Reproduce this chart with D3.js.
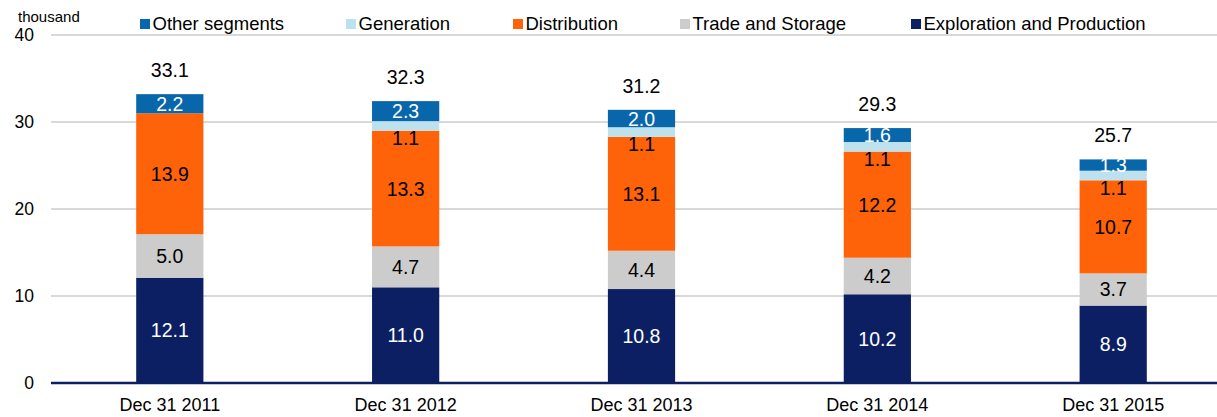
<!DOCTYPE html>
<html>
<head>
<meta charset="utf-8">
<script src="https://cdn.jsdelivr.net/npm/d3@7"></script>
<style>
	body { margin: 0; background: #fff; }
	svg { display: block; font-family: "Liberation Sans", Arial, sans-serif; }
</style>
</head>
<body>
<script>
const categories = ["Dec 31 2011", "Dec 31 2012", "Dec 31 2013", "Dec 31 2014", "Dec 31 2015"];
const exploration = [12.1, 11.0, 10.8, 10.2, 8.9];
const trade = [5.0, 4.7, 4.4, 4.2, 3.7];
const distribution = [13.9, 13.3, 13.1, 12.2, 10.7];
const generation = [0, 1.1, 1.1, 1.1, 1.1];
const other = [2.2, 2.3, 2.0, 1.6, 1.3];
const totals = [33.1, 32.3, 31.2, 29.3, 25.7];
const yTicks = [0, 10, 20, 30, 40];

const series = [
	{ name: "Exploration and Production", values: exploration, colour: "#0c1f63", text: "#fff", dy: 0 },
	{ name: "Trade and Storage", values: trade, colour: "#cccccc", text: "#000", dy: 0 },
	{ name: "Distribution", values: distribution, colour: "#ff6309", text: "#000", dy: 0 },
	{ name: "Generation", values: generation, colour: "#bde2ee", text: "#000", dy: 12 },
	{ name: "Other segments", values: other, colour: "#0866ab", text: "#fff", dy: 0 }
];
const legendOrder = ["Other segments", "Generation", "Distribution", "Trade and Storage", "Exploration and Production"];
const legendX = [140, 346, 513, 680, 911];

const width = 1217, height = 417;
const margin = { top: 35, right: -14, bottom: 34, left: 52 };

const svg = d3.select("body").append("svg")
	.attr("width", width)
	.attr("height", height);

const x = d3.scaleBand()
	.domain(categories)
	.range([margin.left, width - margin.right])
	.paddingInner(0.715)
	.paddingOuter(0.357);

const y = d3.scaleLinear()
	.domain([0, 40])
	.range([height - margin.bottom, margin.top]);

// gridlines
svg.append("g")
	.selectAll("line")
	.data(yTicks.filter(d => d > 0))
	.join("line")
	.attr("stroke", "#d9d9d9")
	.attr("stroke-width", 2)
	.attr("x1", 51)
	.attr("x2", width)
	.attr("y1", d => y(d))
	.attr("y2", d => y(d));

// y tick labels
svg.append("g")
	.selectAll("text")
	.data(yTicks)
	.join("text")
	.attr("x", 34)
	.attr("y", d => y(d))
	.attr("dy", "0.36em")
	.attr("text-anchor", "end")
	.attr("font-size", 17.5)
	.attr("fill", "#000")
	.text(d => d);

svg.append("text")
	.attr("x", 18)
	.attr("y", 22)
	.attr("font-size", 15)
	.text("thousand");

// stacks
const rows = categories.map((c, i) => {
	const r = { cat: c };
	series.forEach(s => r[s.name] = s.values[i]);
	return r;
});
const stacked = d3.stack().keys(series.map(s => s.name))(rows);

const layer = svg.append("g")
	.selectAll("g")
	.data(stacked)
	.join("g")
	.attr("fill", (d, i) => series[i].colour);

layer.selectAll("rect")
	.data(d => d)
	.join("rect")
	.attr("x", d => x(d.data.cat))
	.attr("width", x.bandwidth())
	.attr("y", d => y(d[1]))
	.attr("height", d => y(d[0]) - y(d[1]));

// segment labels
svg.append("g")
	.selectAll("g")
	.data(stacked)
	.join("g")
	.each(function(layerData, i) {
		const s = series[i];
		d3.select(this).selectAll("text")
			.data(layerData.filter(d => d[1] - d[0] > 0))
			.join("text")
			.attr("x", d => x(d.data.cat) + x.bandwidth() / 2)
			.attr("y", d => y((d[0] + d[1]) / 2) + s.dy)
			.attr("dy", "0.36em")
			.attr("text-anchor", "middle")
			.attr("font-size", 19.5)
			.attr("fill", s.text)
			.text(d => d3.format(".1f")(d[1] - d[0]));
	});

// totals
svg.append("g")
	.selectAll("text")
	.data(categories)
	.join("text")
	.attr("x", d => x(d) + x.bandwidth() / 2)
	.attr("y", (d, i) => y(stacked[stacked.length - 1][i][1]) - 17)
	.attr("text-anchor", "middle")
	.attr("font-size", 19.5)
	.text((d, i) => d3.format(".1f")(totals[i]));

// baseline
svg.append("line")
	.attr("stroke", "#0c1f63")
	.attr("stroke-width", 2.5)
	.attr("x1", 51)
	.attr("x2", width)
	.attr("y1", y(0))
	.attr("y2", y(0));

// x labels
svg.append("g")
	.selectAll("text")
	.data(categories)
	.join("text")
	.attr("x", d => x(d) + x.bandwidth() / 2)
	.attr("y", 411)
	.attr("text-anchor", "middle")
	.attr("font-size", 18)
	.text(d => d);

// legend
const lg = svg.append("g")
	.selectAll("g")
	.data(legendOrder)
	.join("g")
	.attr("transform", (d, i) => `translate(${legendX[i]},19)`);

lg.append("rect")
	.attr("width", 10)
	.attr("height", 10)
	.attr("fill", d => series.find(s => s.name === d).colour);

lg.append("text")
	.attr("x", 12.5)
	.attr("y", 11)
	.attr("font-size", 18.5)
	.text(d => d);
</script>
</body>
</html>
